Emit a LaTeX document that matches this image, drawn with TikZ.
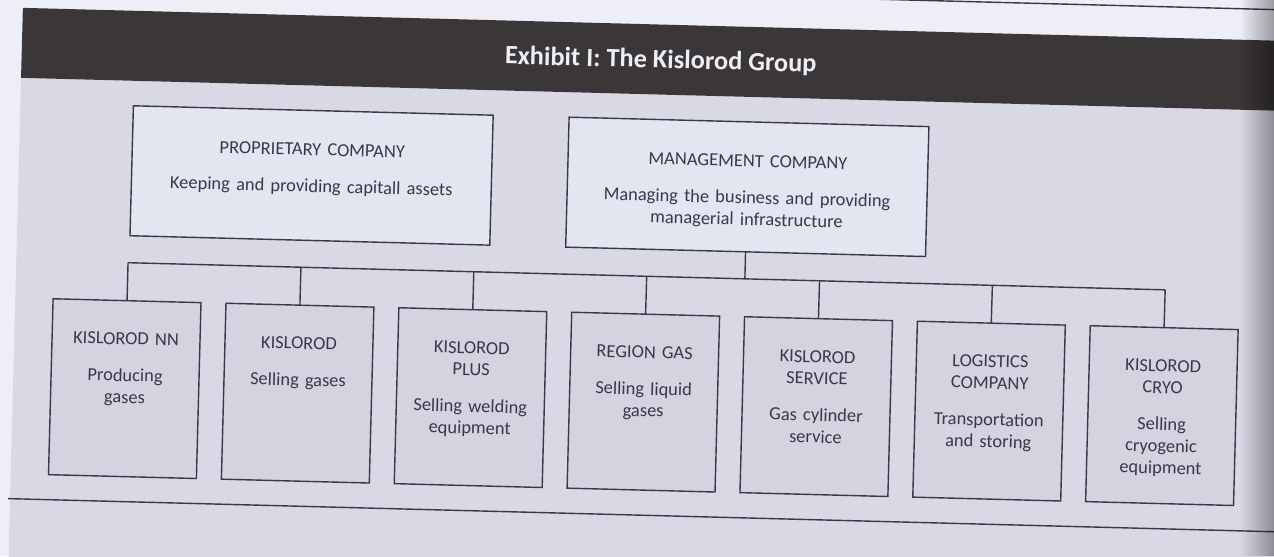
\documentclass[tikz,border=0pt]{standalone}
\usepackage{fontspec}
\setmainfont{Carlito}
\usetikzlibrary{positioning,fadings}
\definecolor{paper}{HTML}{EDEEF6}
\definecolor{panel}{HTML}{D8D9E4}
\definecolor{band}{HTML}{3B3638}
\definecolor{ink}{HTML}{3A3849}
\definecolor{topfill}{HTML}{E3E5F0}
\definecolor{unitfill}{HTML}{D3D4E0}
\tikzfading[name=gutter, left color=transparent!100, right color=transparent!0]

\begin{document}
\begin{tikzpicture}[x=0.02cm, y=-0.02cm,
  firm/.style={draw=ink, line width=0.8pt, fill=topfill, align=center,
               text=ink, font=\fontsize{10.5}{12.4}\selectfont,
               inner sep=0pt, outer sep=0pt,
               text width=7.2cm, text height=0.9cm, text depth=1.7cm},
  unit/.style={firm, fill=unitfill, text width=2.96cm,
               text height=0.88cm, text depth=2.64cm},
  link/.style={draw=ink, line width=0.8pt},
  node distance=0.5cm]
\path[use as bounding box] (0,0) rectangle (1274,556);
\clip (0,0) rectangle (1274,556);
\fill[paper] (0,0) rectangle (1274,556);
\begin{scope}[rotate around={-1.5:(637,278)}, transform shape]
\fill[panel] (16,94) rectangle (1340,620);
\fill[band] (16,24) rectangle (1340,94);
\draw[link] (600,-7) -- (1340,-7);
\draw[link] (14,515) -- (1340,515);
\node[text=paper, font=\bfseries\fontsize{15}{17}\selectfont, anchor=base]
  (title) at (655,67.5) {Exhibit I: The Kislorod Group};
% owners
\node[firm] (prop) at (309,184)
  {PROPRIETARY COMPANY\\[8.5pt]Keeping and providing capitall assets};
\node[firm, right=1.52cm of prop] (mgmt)
  {MANAGEMENT COMPANY\\[8.5pt]Managing the business and providing\\
   managerial infrastructure};
% operating companies
\node[unit] (nn) at (127.8,402) {KISLOROD NN\\[8.5pt]Producing\\gases};
\node[unit, right=of nn] (sales) {KISLOROD\\[8.5pt]Selling gases};
\node[unit, right=of sales] (plus)
  {KISLOROD\\PLUS\\[8.5pt]Selling welding\\equipment};
\node[unit, right=of plus] (region) {REGION GAS\\[8.5pt]Selling liquid\\gases};
\node[unit, right=of region] (service)
  {KISLOROD\\SERVICE\\[8.5pt]Gas cylinder\\service};
\node[unit, right=of service] (logist)
  {LOGISTICS\\COMPANY\\[8.5pt]Transportation\\and storing};
\node[unit, right=of logist] (cryo)
  {KISLOROD\\CRYO\\[8.5pt]Selling\\cryogenic\\equipment};
% bus line
\coordinate (busL) at (0,276);
\coordinate (busR) at (1300,276);
\coordinate (jmgmt) at (intersection of mgmt.north--mgmt.south and busL--busR);
\foreach \u in {nn,sales,plus,region,service,logist,cryo}
  \coordinate (j\u) at (intersection of \u.north--\u.south and busL--busR);
\draw[link] (jnn) -- (jcryo);
\draw[link] (mgmt.south) -- (jmgmt);
\foreach \u in {nn,sales,plus,region,service,logist,cryo}
  \draw[link] (\u.north) -- (j\u);
\end{scope}
\fill[black, opacity=0.35, path fading=gutter] (1240,0) rectangle (1274,556);
\end{tikzpicture}
\end{document}
